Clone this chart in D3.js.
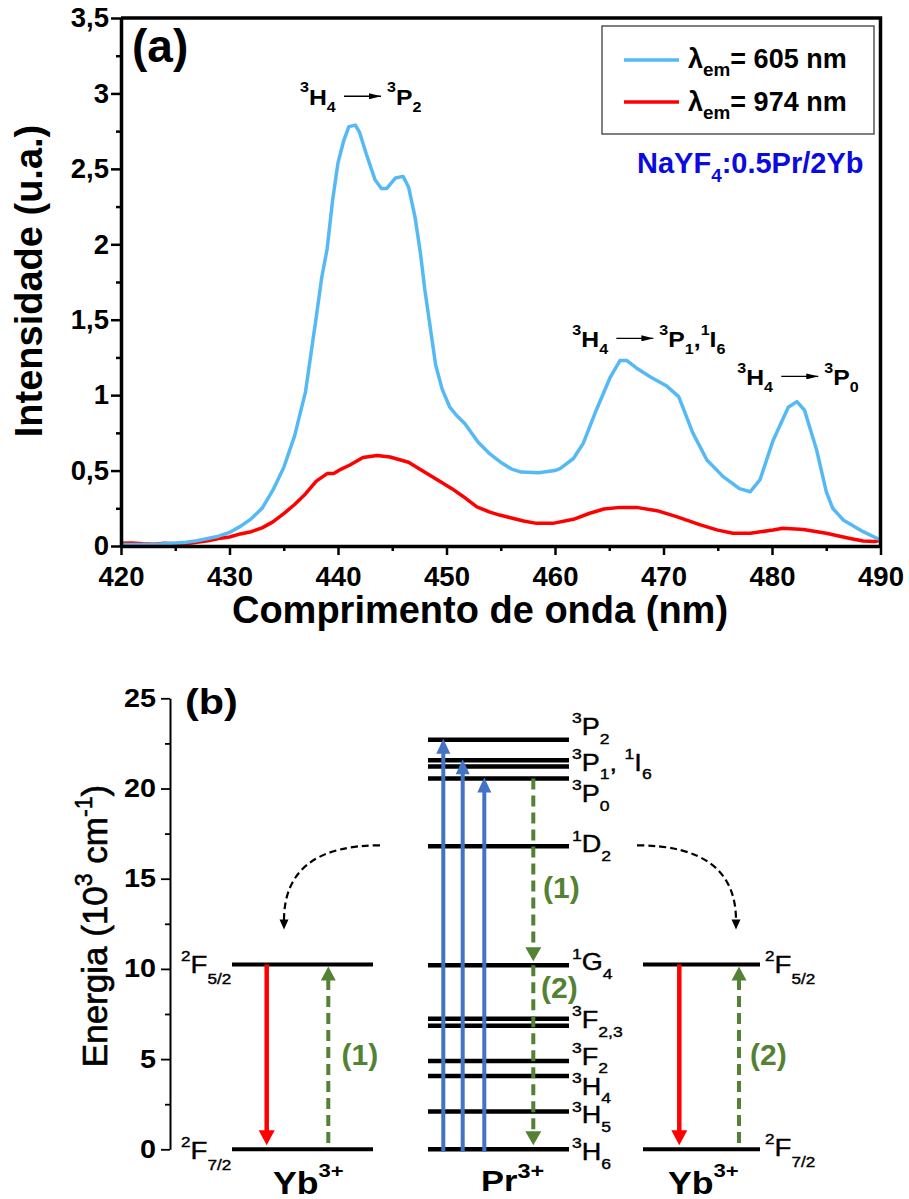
<!DOCTYPE html>
<html><head><meta charset="utf-8">
<script src="https://cdn.jsdelivr.net/npm/d3@7"></script>
<style>body{margin:0;background:#fff} text{font-family:Arial,"Liberation Sans",sans-serif;white-space:pre}</style>
</head><body><svg id="c" width="909" height="1199"></svg>
<script>
// ---------- DATA: panel (a) ----------
const wlBlue = [420,421,422,423,424,425,426,427,428,429,430,431,432,433,434,435,436,437,438,438.5,439,439.5,440,440.5,441,441.6,442,442.6,443.4,444,444.5,445.3,446,446.5,447.1,447.6,448,448.5,449,449.6,450.3,451,451.7,452.9,454,455.1,456,456.9,458.5,460,460.5,461.7,462.6,463.8,465.1,466,466.6,467.5,468.8,470.3,471.4,472.7,474,475.5,477,478,478.9,480.1,481.5,482.3,483,484.1,485,485.6,486.6,488.4,490];
const intBlue = [0.01,0.01,0.01,0.01,0.015,0.02,0.025,0.035,0.05,0.065,0.09,0.13,0.18,0.25,0.37,0.52,0.73,1.02,1.52,1.78,1.97,2.29,2.54,2.68,2.78,2.79,2.74,2.6,2.43,2.37,2.37,2.44,2.45,2.38,2.18,1.94,1.7,1.45,1.2,1.04,0.92,0.86,0.81,0.69,0.61,0.55,0.51,0.49,0.486,0.5,0.515,0.58,0.68,0.9,1.12,1.23,1.23,1.18,1.12,1.06,0.99,0.75,0.57,0.46,0.38,0.36,0.44,0.7,0.92,0.957,0.9,0.64,0.36,0.25,0.17,0.095,0.04];
const wlRed = [420,421,422,423,424,425,426,427,428,429,430,431,432,433,434,435,436,437,438,439,439.6,440.3,441.1,442.3,443.6,444.8,446.5,448.2,449.6,450.5,451.5,452.8,454,454.9,457.1,458.3,459.8,461.7,463.2,464.5,466,467.5,469.4,471.2,473.4,475,476.4,478,480.1,481,482.9,485,487.2,488.4,489.5,490];
const intRed = [0.018,0.02,0.015,0.012,0.018,0.015,0.015,0.025,0.035,0.05,0.06,0.08,0.095,0.12,0.16,0.215,0.275,0.345,0.43,0.48,0.48,0.51,0.537,0.586,0.6,0.59,0.555,0.48,0.42,0.38,0.33,0.26,0.225,0.205,0.166,0.15,0.15,0.177,0.217,0.245,0.256,0.256,0.234,0.195,0.14,0.105,0.084,0.084,0.106,0.117,0.11,0.084,0.05,0.033,0.03,0.04];
const xTicks = [420,430,440,450,460,470,480,490];
const xMinor = [425,435,445,455,465,475,485];
const yTicks = [0,0.5,1,1.5,2,2.5,3,3.5];
const yTickLabels = ["0","0,5","1","1,5","2","2,5","3","3,5"];
const yMinor = [0.25,0.75,1.25,1.75,2.25,2.75,3.25];
const legendLabels = ["\u03bb_{em}= 605 nm","\u03bb_{em}= 974 nm"];
const annFrom = ["^{3}H_{4}","^{3}H_{4}","^{3}H_{4}"];
const annTo = ["^{3}P_{2}","^{3}P_{1},^{1}I_{6}","^{3}P_{0}"];
const annWl = [436.5, 461.6, 476.8];
const annInt = [2.925, 1.32, 1.068];

// ---------- DATA: panel (b) ----------
const eTicks = [0,5,10,15,20,25];
const eMinor = [2.5,7.5,12.5,17.5,22.5];
const prLevelE = [0,2.09,4.07,4.9,6.85,7.24,10.2,16.8,20.55,21.22,21.57,22.7];
const prLabels = ["^{3}H_{6}","^{3}H_{5}","^{3}H_{4}","^{3}F_{2}","^{3}F_{2,3}","^{1}G_{4}","^{1}D_{2}","^{3}P_{0}","^{3}P_{1}, ^{1}I_{6}","^{3}P_{2}"];
const prLabelE = [-0.6,1.44,3.02,4.68,6.72,9.92,16.46,19.24,20.98,22.96];
const ybLevelE = [0,10.25];
const ybLabels = ["^{2}F_{7/2}","^{2}F_{5/2}"];
const ybLabelE = [-0.55,9.78];
const pumpTopE = [22.7,21.57,20.55];
const prRelaxE = [[20.55,10.2],[10.2,0]];
const prRelaxText = ["(1)","(2)"];
const ybEmitE = [10.25,0];
const ybAbsE = [0.35,10.25];
const ybAbsText = ["(1)","(2)"];
const transferE = [16.85,12.3];

// ---------- helpers ----------
const svg = d3.select("#c");
function parse(s){const re=/(\^|_)\{([^}]*)\}|([^\^_]+)/g;let m,o=[];while((m=re.exec(s))){if(m[3])o.push({t:m[3]});else o.push({t:m[2],s:m[1]==='^'?'sup':'sub'});}return o;}
function rich(parent,x,y,str,o){
  const size=o.size,sx=o.sx||1;
  const g=parent.append('g').attr('transform',`translate(${x},${y}) scale(${sx},1)`);
  const t=g.append('text').attr('font-size',size).attr('font-weight',o.weight||'normal')
    .attr('fill',o.fill||'#000').attr('text-anchor',o.anchor||'start');
  if(o.stroke) t.attr('stroke',o.fill||'#000').attr('stroke-width',o.stroke);
  let cur=0;
  parse(str).forEach(p=>{
    const sh=p.s==='sup'?-(o.sup??0.5)*size:p.s==='sub'?(o.sub??0.35)*size:0;
    const fs=p.s?size*(o.small??0.65):size;
    t.append('tspan').attr('dy',sh-cur).attr('font-size',fs).text(p.t);
    cur=sh;
  });
  return t;
}

// ---------- PANEL (a) ----------
const x = d3.scaleLinear().domain([420,490]).range([121,880.5]);
const y = d3.scaleLinear().domain([0,3.5]).range([546,18]);
const A = svg.append('g');

const line = d3.line().x(d=>x(d[0])).y(d=>y(d[1]));
A.append('path').datum(wlRed.map((w,i)=>[w,intRed[i]])).attr('d',line)
  .attr('fill','none').attr('stroke','#ff0000').attr('stroke-width',3.5).attr('stroke-linejoin','round');
A.append('path').datum(wlBlue.map((w,i)=>[w,intBlue[i]])).attr('d',line)
  .attr('fill','none').attr('stroke','#55b9f5').attr('stroke-width',3.5).attr('stroke-linejoin','round');

function styleAxis(g,fs){
  g.attr('font-family','Arial, "Liberation Sans", sans-serif').attr('font-size',fs).attr('font-weight','bold');
  g.selectAll('text').attr('fill','#000');
}
const gxM = A.append('g').attr('transform',`translate(0,${y(0)})`)
  .call(d3.axisBottom(x).tickValues(xMinor).tickSize(5).tickSizeOuter(0).tickFormat(''));
gxM.select('.domain').remove(); gxM.selectAll('line').attr('stroke-width',2.5);
const gx = A.append('g').attr('transform',`translate(0,${y(0)})`)
  .call(d3.axisBottom(x).tickValues(xTicks).tickSize(9).tickPadding(11).tickSizeOuter(0).tickFormat(d3.format('d')));
styleAxis(gx,27.5); gx.select('.domain').attr('stroke-width',3.5); gx.selectAll('line').attr('stroke-width',2.5);

const gyM = A.append('g').attr('transform',`translate(${x(420)},0)`)
  .call(d3.axisLeft(y).tickValues(yMinor).tickSize(5).tickSizeOuter(0).tickFormat(''));
gyM.select('.domain').remove(); gyM.selectAll('line').attr('stroke-width',2.5);
const gy = A.append('g').attr('transform',`translate(${x(420)},0)`)
  .call(d3.axisLeft(y).tickValues(yTicks).tickSize(10).tickPadding(2).tickSizeOuter(0).tickFormat((d,i)=>yTickLabels[i]));
styleAxis(gy,27.5); gy.select('.domain').attr('stroke-width',3.5); gy.selectAll('line').attr('stroke-width',2.5);
// frame top/right
A.append('path').attr('d',`M${x(420)},${y(3.5)}H${x(490)}V${y(0)}`).attr('fill','none').attr('stroke','#000').attr('stroke-width',3.5);

// titles
A.append('text').attr('x',480).attr('y',623).attr('text-anchor','middle').attr('font-size',38).attr('font-weight','bold').text('Comprimento de onda (nm)');
A.append('text').attr('transform','translate(42,281) rotate(-90)').attr('text-anchor','middle').attr('font-size',38).attr('font-weight','bold').text('Intensidade (u.a.)');
A.append('text').attr('x',132).attr('y',62).attr('font-size',46).attr('font-weight','bold').text('(a)');

// legend
A.append('rect').attr('x',602).attr('y',26).attr('width',272).attr('height',108).attr('fill','#fff').attr('stroke','#555').attr('stroke-width',1.5);
[['#55b9f5',60,68],['#ff0000',102,110.5]].forEach((c,i)=>{
  A.append('line').attr('x1',624).attr('x2',679).attr('y1',c[1]).attr('y2',c[1]).attr('stroke',c[0]).attr('stroke-width',3.5);
  rich(A,688,c[2],legendLabels[i],{size:27,weight:'bold',sub:0.3,small:0.7});
});
rich(A,637,173,"NaYF_{4}:0.5Pr/2Yb",{size:29,weight:'bold',fill:'#0b0be0',sub:0.3,small:0.65});

// annotations
const defs = svg.append('defs');
function marker(id,color,w,l){
  defs.append('marker').attr('id',id).attr('viewBox',`0 0 ${l} ${w}`).attr('refX',l).attr('refY',w/2)
    .attr('markerWidth',l).attr('markerHeight',w).attr('markerUnits','userSpaceOnUse').attr('orient','auto')
    .append('path').attr('d',`M0,0L${l},${w/2}L0,${w}Z`).attr('fill',color);
}
marker('ah','#000',6,12);
annFrom.forEach((s,i)=>{
  const ax=x(annWl[i]), ay=y(annInt[i]);
  rich(A,ax,ay,s,{size:22.5,weight:'bold',sx:1.1,sup:0.55,sub:0.33});
  A.append('line').attr('x1',ax+44).attr('x2',ax+81).attr('y1',ay-8.5).attr('y2',ay-8.5)
    .attr('stroke','#000').attr('stroke-width',1.3).attr('marker-end','url(#ah)');
  rich(A,ax+87,ay,annTo[i],{size:22.5,weight:'bold',sx:1.1,sup:0.55,sub:0.33});
});

// ---------- PANEL (b) ----------
const e = d3.scaleLinear().domain([0,25]).range([1149.3,698.3]);
const B = svg.append('g');
const SX = 1.15;
const axX = 170;
const geM = B.append('g').attr('transform',`translate(${axX},0)`)
  .call(d3.axisLeft(e).tickValues(eMinor).tickSize(5).tickSizeOuter(0).tickFormat(''));
geM.select('.domain').remove(); geM.selectAll('line').attr('stroke-width',1.8);
const ge = B.append('g').attr('transform',`translate(${axX},0)`)
  .call(d3.axisLeft(e).tickValues(eTicks).tickSize(9).tickPadding(5).tickSizeOuter(0).tickFormat(d3.format('d')));
styleAxis(ge,25); ge.select('.domain').attr('stroke-width',2); ge.selectAll('line').attr('stroke-width',1.8);
ge.selectAll('text').attr('x',-14/SX).attr('transform',`scale(${SX},1)`);

const eTitle = parse("Energia (10^{3} cm^{-1})");
B.append('text').attr('transform','translate(107,926) rotate(-90)').attr('text-anchor','middle').attr('font-size',35)
  .attr('stroke','#000').attr('stroke-width',0.6)
  .selectAll('tspan').data(eTitle).join('tspan')
  .attr('font-size',d=>d.s?23:35).attr('dy',(d,i)=>{const sh=d.s==='sup'?-15:0;const prev=i>0&&eTitle[i-1].s==='sup'?-15:0;return sh-prev;})
  .text(d=>d.t);

rich(B,185,714,"(b)",{size:36,weight:'bold',sx:SX});

// columns
const colYbL=[232,373], colPr=[428,569], colYbR=[643,760];
// levels
B.selectAll('.prl').data(prLevelE).join('line').attr('x1',colPr[0]).attr('x2',colPr[1])
  .attr('y1',d=>e(d)).attr('y2',d=>e(d)).attr('stroke','#000').attr('stroke-width',4.5);
[colYbL,colYbR].forEach(c=>{
  B.selectAll(null).data(ybLevelE).join('line').attr('x1',c[0]).attr('x2',c[1])
    .attr('y1',d=>e(d)).attr('y2',d=>e(d)).attr('stroke','#000').attr('stroke-width',4);
});
prLabels.forEach((s,i)=>rich(B,572,e(prLabelE[i]),s,{size:23.5,sx:SX,sup:0.5,sub:0.36,stroke:0.4}));
ybLabels.forEach((s,i)=>{
  rich(B,181,e(ybLabelE[i]),s,{size:24,sx:SX,sup:0.5,sub:0.45,small:0.62,stroke:0.4});
  rich(B,765,e(ybLabelE[i])-(i===0?3:0),s,{size:24,sx:SX,sup:0.5,sub:0.45,small:0.62,stroke:0.4});
});
rich(B,481,1191,"Pr^{3+}",{size:30,weight:'bold',sx:SX,sup:0.45,small:0.68});
rich(B,273,1194,"Yb^{3+}",{size:31,weight:'bold',sx:SX,sup:0.55,small:0.62});
rich(B,668,1194,"Yb^{3+}",{size:31,weight:'bold',sx:SX,sup:0.55,small:0.62});

// arrows
function arrow(xp,yFrom,yTo,color,opt){
  const dir = yTo<yFrom?-1:1; // -1 upward
  const hl=opt.hl, hw=opt.hw;
  const base = yTo - dir*hl;
  B.append('line').attr('x1',xp).attr('x2',xp).attr('y1',yFrom).attr('y2',base+dir*1)
    .attr('stroke',color).attr('stroke-width',opt.w).attr('stroke-dasharray',opt.dash||null);
  B.append('path').attr('d',`M${xp-hw/2},${base}L${xp+hw/2},${base}L${xp},${yTo}Z`).attr('fill',color);
}
const blue='#4472c4', green='#548235', red='#ff0000';
[443.3,462.7,484.3].forEach((xp,i)=>arrow(xp,e(0)+2.5,e(pumpTopE[i])-1,blue,{w:4,hl:15,hw:14}));
prRelaxE.forEach((p,i)=>arrow(533.3,e(p[0]),e(p[1])-4,green,{w:4,hl:14,hw:16,dash:'11,6'}));
B.append('text').attr('x',543).attr('y',898).attr('font-size',30).attr('font-weight','bold').attr('fill',green).text(prRelaxText[0]);
B.append('text').attr('x',541).attr('y',998).attr('font-size',30).attr('font-weight','bold').attr('fill',green).text(prRelaxText[1]);
[[266.7,328.3,341.5],[679.3,739,750]].forEach((c,i)=>{
  arrow(c[0],e(ybEmitE[0]),e(ybEmitE[1])-4,red,{w:4.5,hl:15,hw:16});
  arrow(c[1],e(ybAbsE[0]),e(ybAbsE[1])+2,green,{w:4,hl:14,hw:15,dash:'11,6'});
  B.append('text').attr('x',c[2]).attr('y',1065).attr('font-size',30).attr('font-weight','bold').attr('fill',green).text(ybAbsText[i]);
});
// energy-transfer curved arrows
[[380,284],[637,736]].forEach(c=>{
  const y0=e(transferE[0]), y1=e(transferE[1]);
  B.append('path').attr('d',`M${c[0]},${y0} Q${c[1]},${y0} ${c[1]},${y1-7}`).attr('fill','none')
    .attr('stroke','#000').attr('stroke-width',2.2).attr('stroke-dasharray','7,4');
  B.append('path').attr('d',`M${c[1]-4.5},${y1-8}L${c[1]+4.5},${y1-8}L${c[1]},${y1+2}Z`).attr('fill','#000');
});
</script></body></html>
